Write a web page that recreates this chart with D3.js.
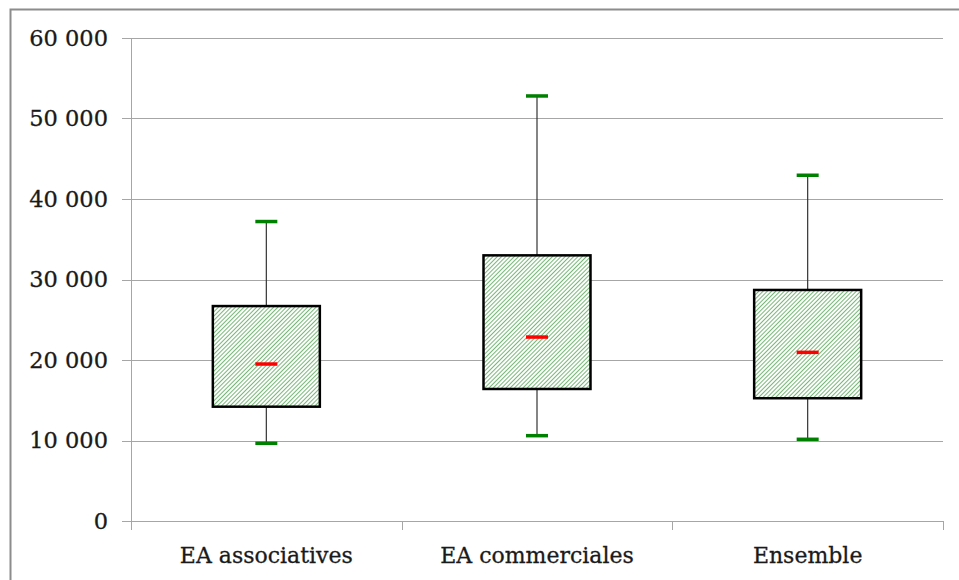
<!DOCTYPE html>
<html>
<head>
<meta charset="utf-8">
<script src="https://cdn.jsdelivr.net/npm/d3@7"></script>
<style>
  html, body { margin: 0; padding: 0; background: #fff; }
  svg { display: block; }
</style>
</head>
<body>
<svg id="chart" width="959" height="580"></svg>
<script>
// ---- data ----
const categories = ["EA associatives", "EA commerciales", "Ensemble"];
const minValues    = [9650, 10600, 10150];
const q1Values     = [14200, 16400, 15250];
const medianValues = [19500, 22850, 20950];
const q3Values     = [26700, 33000, 28700];
const maxValues    = [37200, 52800, 42950];
const yTicks = [0, 10000, 20000, 30000, 40000, 50000, 60000];

const svg = d3.select("#chart");
const W = 959, H = 580;
const margin = { left: 131, right: 16, top: 38, bottom: 59 };
const plotW = W - margin.left - margin.right;
const plotH = H - margin.top - margin.bottom;

// outer frame
svg.append("rect")
  .attr("x", 10.5).attr("y", 9.5)
  .attr("width", 960).attr("height", 580)
  .attr("fill", "none").attr("stroke", "#8c8c8c").attr("stroke-width", 2);

// hatch pattern
const defs = svg.append("defs");
const pat = defs.append("pattern")
  .attr("id", "hatch")
  .attr("patternUnits", "userSpaceOnUse")
  .attr("width", 3).attr("height", 3)
  .attr("patternTransform", "rotate(45)");
pat.append("rect").attr("width", 3).attr("height", 3).attr("fill", "#ffffff");
pat.append("line")
  .attr("x1", 0).attr("y1", 0).attr("x2", 0).attr("y2", 3)
  .attr("stroke", "#3a9a3a").attr("stroke-width", 1.4);

const g = svg.append("g").attr("transform", `translate(${margin.left},${margin.top})`);

const y = d3.scaleLinear().domain([0, 60000]).range([plotH, 0]);
const x = d3.scaleBand().domain(categories).range([0, plotW]).paddingInner(0).paddingOuter(0);

const fmt = v => d3.format(",")(v).replace(/,/g, " ");

// gridlines
g.append("g")
  .selectAll("line")
  .data(yTicks)
  .join("line")
  .attr("x1", -9).attr("x2", plotW)
  .attr("y1", d => Math.round(y(d)) + 0.5).attr("y2", d => Math.round(y(d)) + 0.5)
  .attr("stroke", "#a6a6a6").attr("stroke-width", 1);

// y axis line
g.append("line")
  .attr("x1", 0.5).attr("x2", 0.5)
  .attr("y1", 0).attr("y2", plotH)
  .attr("stroke", "#a6a6a6").attr("stroke-width", 1);

// y tick labels
g.append("g")
  .selectAll("text")
  .data(yTicks)
  .join("text")
  .attr("x", -23)
  .attr("y", d => y(d))
  .attr("dy", "0.35em")
  .attr("text-anchor", "end")
  .attr("font-family", "'DejaVu Serif', serif")
  .attr("font-size", 22.5)
  .attr("fill", "#1a1a1a")
  .attr("stroke", "#1a1a1a").attr("stroke-width", 0.3)
  .text(d => fmt(d));

// x category ticks
const xTickPos = categories.map(c => x(c)).concat([plotW]);
g.append("g")
  .selectAll("line")
  .data(xTickPos)
  .join("line")
  .attr("x1", d => Math.round(d) + 0.5).attr("x2", d => Math.round(d) + 0.5)
  .attr("y1", plotH).attr("y2", plotH + 9)
  .attr("stroke", "#a6a6a6").attr("stroke-width", 1);

// x labels
g.append("g")
  .selectAll("text")
  .data(categories)
  .join("text")
  .attr("x", d => x(d) + x.bandwidth() / 2)
  .attr("y", plotH + 42)
  .attr("text-anchor", "middle")
  .attr("font-family", "'DejaVu Serif', serif")
  .attr("font-size", 22)
  .attr("fill", "#1a1a1a")
  .attr("stroke", "#1a1a1a").attr("stroke-width", 0.3)
  .text(d => d);

// boxes
const boxW = 107, capW = 22;
const data = categories.map((c, i) => ({
  c, min: minValues[i], q1: q1Values[i], med: medianValues[i], q3: q3Values[i], max: maxValues[i]
}));

const bx = g.append("g").selectAll("g").data(data).join("g")
  .attr("transform", d => `translate(${x(d.c) + x.bandwidth() / 2},0)`);

// whiskers
bx.append("line")
  .attr("x1", 0).attr("x2", 0)
  .attr("y1", d => y(d.max)).attr("y2", d => y(d.q3))
  .attr("stroke", "#333").attr("stroke-width", 1.2);
bx.append("line")
  .attr("x1", 0).attr("x2", 0)
  .attr("y1", d => y(d.q1)).attr("y2", d => y(d.min))
  .attr("stroke", "#333").attr("stroke-width", 1.2);

// box
bx.append("rect")
  .attr("x", -boxW / 2)
  .attr("y", d => y(d.q3))
  .attr("width", boxW)
  .attr("height", d => y(d.q1) - y(d.q3))
  .attr("fill", "url(#hatch)")
  .attr("stroke", "#000").attr("stroke-width", 2.5);

// caps
bx.append("line")
  .attr("x1", -capW / 2).attr("x2", capW / 2)
  .attr("y1", d => y(d.max)).attr("y2", d => y(d.max))
  .attr("stroke", "#008000").attr("stroke-width", 3.5);
bx.append("line")
  .attr("x1", -capW / 2).attr("x2", capW / 2)
  .attr("y1", d => y(d.min)).attr("y2", d => y(d.min))
  .attr("stroke", "#008000").attr("stroke-width", 3.5);

// median
bx.append("line")
  .attr("x1", -capW / 2).attr("x2", capW / 2)
  .attr("y1", d => y(d.med)).attr("y2", d => y(d.med))
  .attr("stroke", "#ff0000").attr("stroke-width", 3.5);
</script>
</body>
</html>
